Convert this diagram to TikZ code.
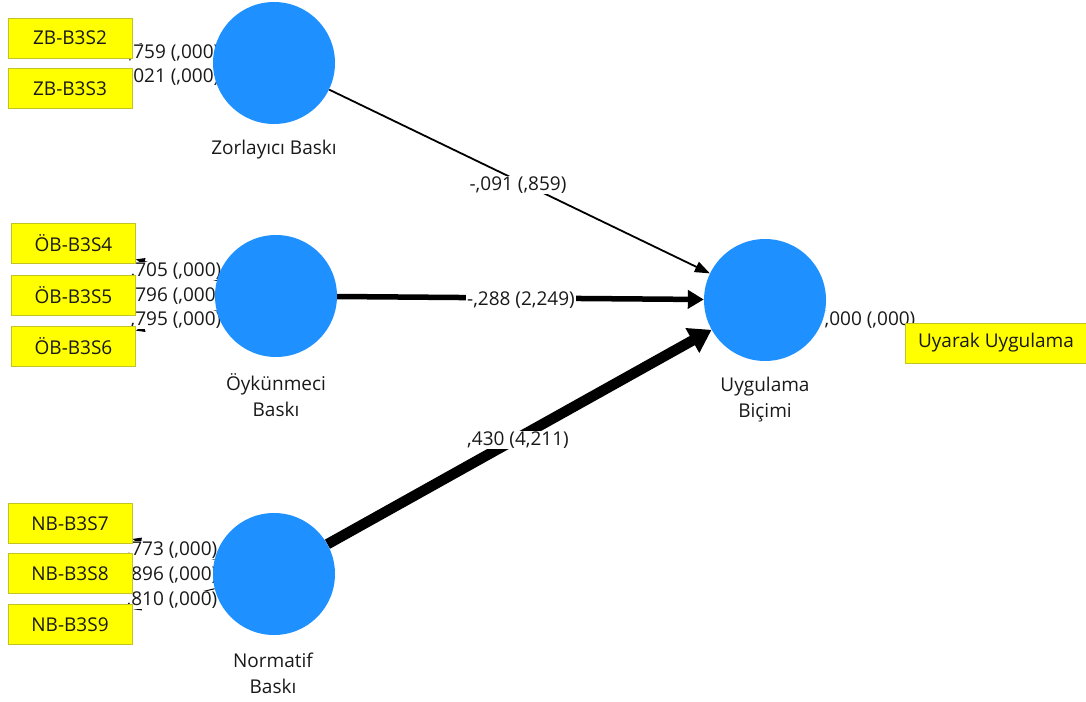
\documentclass[tikz,border=0pt]{standalone}
\usepackage{fontspec}
\setmainfont{Open Sans}
\usetikzlibrary{arrows.meta}
\definecolor{lvblue}{RGB}{30,144,255}
\definecolor{boxyel}{RGB}{255,255,0}
\definecolor{boxedge}{RGB}{195,195,40}
\definecolor{txt}{RGB}{25,25,25}
\pgfdeclarelayer{arr}
\pgfdeclarelayer{lab}
\pgfsetlayers{arr,lab,main}
\begin{document}
\begin{tikzpicture}[x=1pt,y=-1pt,
  font=\fontsize{19}{26}\selectfont,
  every node/.style={text=txt},
  lv/.style={circle, fill=lvblue, minimum size=122pt, inner sep=0pt},
  ind/.style={draw=boxedge, line width=0.8pt, fill=boxyel, minimum width=124pt, minimum height=40pt, inner sep=0pt},
  lbl/.style={fill=white, inner sep=1pt},
  lvtitle/.style={align=center},
  indar/.style={line width=1pt, -{Triangle[length=9pt,width=7pt]}},
  thinar/.style={line width=1.8pt, -{Triangle[length=15pt,width=11pt]}},
  midar/.style={line width=5.5pt, -{Triangle[length=16pt,width=18pt]}},
  thickar/.style={line width=10.5pt, -{Triangle[length=22pt,width=27pt]}}
]
\useasboundingbox (0,0) rectangle (1086,701);

% latent variables
\node[lv] (zb) at (274,63) {};
\node[lv] (ob) at (276,296) {};
\node[lv] (nb) at (274,574) {};
\node[lv] (ub) at (765,300) {};

\node[lvtitle] (zbt) at (274,150) {Zorlayıcı Baskı};
\node[lvtitle] (obt) at (276,395) {Öykünmeci\\Baskı};
\node[lvtitle] (nbt) at (273,673) {Normatif\\Baskı};
\node[lvtitle] (ubt) at (765,400) {Uygulama\\Biçimi};

% indicators
\node[ind] (zb2) at (70,38) {ZB-B3S2};
\node[ind] (zb3) at (70,88.5) {ZB-B3S3};
\node[ind] (ob4) at (73.5,243) {ÖB-B3S4};
\node[ind] (ob5) at (73.5,295) {ÖB-B3S5};
\node[ind] (ob6) at (73.5,346) {ÖB-B3S6};
\node[ind] (nb7) at (70,523.5) {NB-B3S7};
\node[ind] (nb8) at (70,573.5) {NB-B3S8};
\node[ind] (nb9) at (70,624.5) {NB-B3S9};
\node[ind, minimum width=181pt] (uu) at (996,343) {Uyarak Uygulama};

\begin{pgfonlayer}{arr}
\draw[indar] (zb) -- (zb2);
\draw[indar] (zb) -- (zb3);
\draw[indar] (ob) -- (ob4);
\draw[indar] (ob) -- (ob5);
\draw[indar] (ob) -- (ob6);
\draw[indar] (nb) -- (nb7);
\draw[indar] (nb) -- (nb8);
\draw[indar] (nb) -- (nb9);
\draw[indar] (ub) -- (uu);
\draw[thinar] (zb) -- (ub);
\draw[midar] (ob) -- (ub);
\draw[thickar] (nb) -- (ub);
\end{pgfonlayer}

\begin{pgfonlayer}{lab}
\node[lbl] (l2) at (174,53) {,759 (,000)};
\node[lbl] (l3) at (174,77) {,021 (,000)};
\node[lbl] (l4) at (176,271) {,705 (,000)};
\node[lbl] (l5) at (176,296) {,796 (,000)};
\node[lbl] (l6) at (176,320) {,795 (,000)};
\node[lbl] (l7) at (172,550) {,773 (,000)};
\node[lbl] (l8) at (172,575) {,896 (,000)};
\node[lbl] (l9) at (172,600) {,810 (,000)};
\node[lbl] (lu) at (870,320) {,000 (,000)};
\node[lbl] (p1) at (518,185) {-,091 (,859)};
\node[lbl] (p2) at (521,300) {-,288 (2,249)};
\node[lbl] (p3) at (518,440) {,430 (4,211)};
\end{pgfonlayer}
\end{tikzpicture}
\end{document}
